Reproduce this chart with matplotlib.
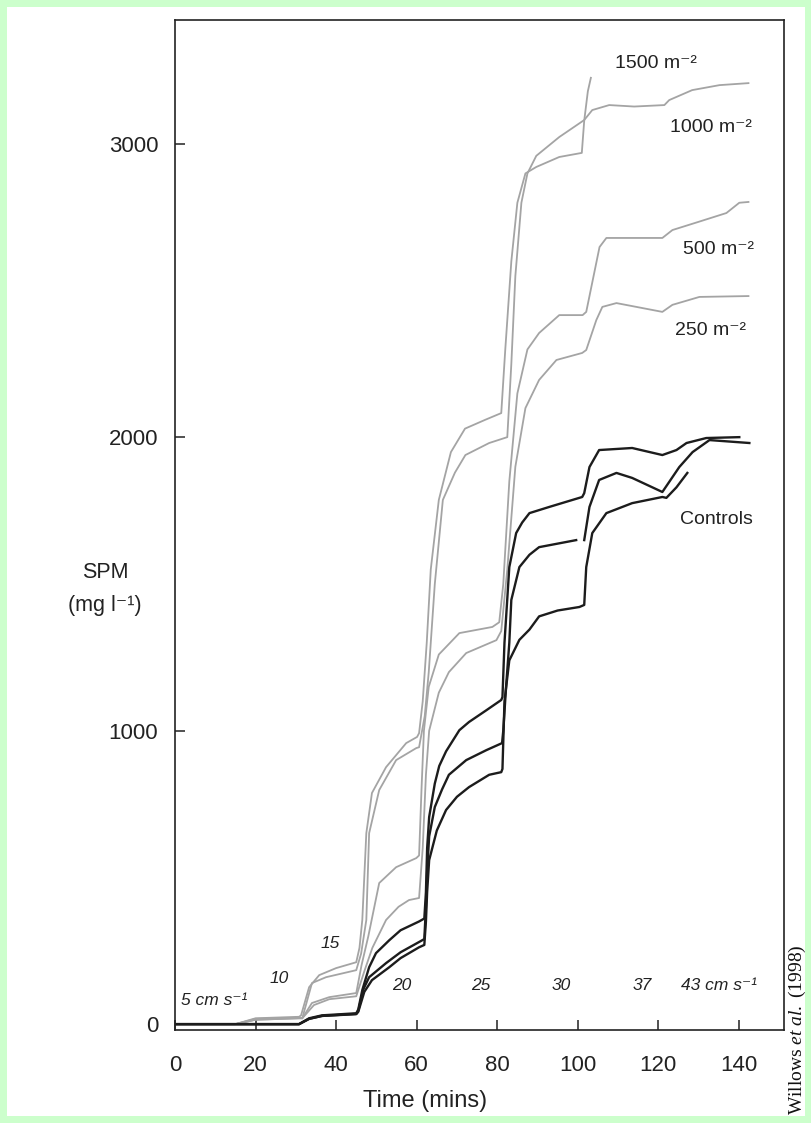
import numpy as np
import matplotlib
matplotlib.use("Agg")
import matplotlib.pyplot as plt
from matplotlib.patches import Rectangle

plt.rcParams['font.family'] = ['Liberation Sans', 'DejaVu Sans']
plt.rcParams['mathtext.fontset'] = 'custom'
plt.rcParams['mathtext.rm'] = 'Liberation Serif'
plt.rcParams['mathtext.it'] = 'Liberation Serif:italic'

# --- data (time in mins, SPM in mg/l) ---
g1500_x = [0, 15, 20, 30.8, 31.3, 33.3, 35.8, 40.0, 45.0, 45.8, 46.5, 47.5, 48.9, 52.4, 57.4,
           60.1, 60.6, 61.5, 62.5, 63.5, 65.5, 68.5, 72, 77, 81, 82, 83.5, 85, 87, 89.7, 95.4,
           101.0, 101.6, 102.5, 103.3]
g1500_y = [0, 0, 20, 25, 30, 126, 167, 191, 211, 260, 355, 651, 788, 876, 958,
           979, 992, 1100, 1300, 1550, 1787, 1950, 2030, 2060, 2083, 2300, 2600, 2800, 2900, 2922, 2956,
           2970, 3080, 3180, 3229]

g1000_x = [0, 15, 20, 30.8, 31.6, 34.0, 37.5, 45.0, 46.2, 47.5, 48.2, 50.7, 54.9, 59.9, 60.6,
           62.0, 63.0, 64.5, 66.5, 69.5, 72.1, 78.0, 82.5, 83.5, 84.5, 86.0, 87.5, 89.7, 95.4,
           101.6, 103.6, 107.8, 114, 121.5, 122.7, 128.4, 135.2, 142.6]
g1000_y = [0, 0, 18, 22, 20, 140, 160, 184, 240, 355, 651, 798, 900, 941, 944,
           1050, 1200, 1500, 1787, 1880, 1940, 1981, 2001, 2250, 2550, 2800, 2900, 2960, 3024,
           3082, 3116, 3133, 3128, 3133, 3150, 3184, 3201, 3208]

g500_x = [0, 15, 20, 30.8, 31.6, 34.0, 38.3, 45.0, 46.3, 48.0, 50.7, 54.9, 59.9, 60.6, 61.2,
          61.8, 63, 65.5, 70.6, 78.8, 80.5, 81.5, 83.0, 85.0, 87.5, 90.4, 95.4, 101.2, 102.1,
          105.4, 107.1, 121, 123.5, 130, 136.9, 140.1, 142.6]
g500_y = [0, 0, 15, 20, 20, 72, 92, 106, 200, 300, 481, 535, 566, 575, 800,
          1000, 1150, 1260, 1333, 1354, 1370, 1500, 1850, 2150, 2300, 2356, 2417, 2417, 2428,
          2649, 2680, 2680, 2707, 2735, 2765, 2800, 2803]

g250_x = [0, 15, 20, 30.8, 31.6, 34.5, 38.3, 45.0, 47.0, 49.0, 52.4, 55.5, 58.1, 60.6, 61.5,
          62.3, 63.1, 65.5, 68, 72.3, 79.8, 81, 82.5, 84.5, 87, 90.4, 94.7, 101.1, 102.1,
          104.6, 106.1, 109.6, 121, 123.5, 130.2, 142.6]
g250_y = [0, 0, 15, 20, 20, 65, 85, 95, 180, 260, 355, 400, 423, 430, 600,
          850, 1000, 1130, 1200, 1265, 1309, 1340, 1550, 1900, 2100, 2196, 2264, 2288, 2298,
          2400, 2445, 2458, 2428, 2452, 2479, 2482]

ctrl1_x = [0, 30.8, 33.3, 36.5, 45.0, 45.5, 46.5, 48.2, 49.9, 53.2, 56, 60.6, 61.9, 62.3, 62.6,
           63.1, 64.5, 65.6, 67.3, 70.6, 73.0, 77.3, 81.0, 81.3, 81.8, 82.5, 83.0, 84.7, 86.2,
           88.0, 92.9, 101.1, 101.6, 102.9, 105.3, 113.5, 121.0, 124.5, 127.0, 131.9, 140.1]
ctrl1_y = [0, 0, 20, 30, 37, 50, 116, 194, 242, 286, 320, 350, 360, 450, 600,
           706, 820, 880, 930, 1002, 1030, 1070, 1105, 1115, 1300, 1450, 1558, 1674, 1710,
           1742, 1763, 1797, 1810, 1899, 1957, 1964, 1940, 1957, 1981, 1998, 2001]

ctrl2_x = [0, 30.8, 33.3, 36.5, 45.0, 45.5, 46.8, 48.2, 52.4, 56, 60.6, 61.9, 62.3, 62.6, 63.1,
           64.5, 66.3, 68, 72.3, 77.3, 81.2, 81.5, 82.2, 83.0, 83.5, 85.5, 88.0, 90.4, 99.6,
           np.nan, 101.6, 102.9, 105.3, 109.6, 113.5, 121.0, 125.2, 128.5, 132.7, 142.6]
ctrl2_y = [0, 0, 18, 28, 35, 45, 120, 160, 208, 245, 280, 290, 400, 520, 640,
           740, 800, 850, 900, 934, 958, 1000, 1150, 1300, 1446, 1558, 1600, 1626, 1650,
           np.nan, 1650, 1763, 1855, 1879, 1862, 1814, 1899, 1950, 1991, 1981]

ctrl3_x = [0, 30.8, 33.3, 36.5, 45.0, 45.5, 47, 48.9, 53.2, 56, 60.6, 61.9, 62.3, 62.6, 63.1,
           65, 67.3, 70, 73.0, 78.0, 81.0, 81.3, 81.8, 83.0, 85.5, 88, 90.4, 95, 100.4, 101.6,
           102.1, 103.6, 107.1, 113.5, 121.0, 122.0, 124.5, 127.2]
ctrl3_y = [0, 0, 18, 28, 34, 42, 110, 150, 194, 225, 262, 270, 350, 450, 559,
           660, 730, 775, 808, 850, 859, 870, 1100, 1240, 1310, 1345, 1390, 1410, 1422, 1429,
           1558, 1674, 1742, 1776, 1797, 1794, 1830, 1879]

# curve labels
dens_labels = ['1500 m⁻²', '1000 m⁻²', '500 m⁻²', '250 m⁻²', 'Controls']
dens_lx = [119.5, 133.0, 135.0, 133.0, 134.5]
dens_ly = [3275, 3055, 2640, 2365, 1720]

# current velocity labels
vel_labels = ['5 cm s⁻¹', '10', '15', '20', '25', '30', '37', '43 cm s⁻¹']
vel_lx = [9.8, 25.8, 38.5, 56.3, 75.8, 96.0, 116.0, 135.0]
vel_ly = [80, 155, 275, 130, 130, 130, 130, 130]

x_ticks = [0, 20, 40, 60, 80, 100, 120, 140]
y_ticks = [0, 1000, 2000, 3000]

# --- figure ---
W, H = 812, 1123
fig = plt.figure(figsize=(W / 100, H / 100), dpi=100)
fig.patch.set_facecolor('#ccffcc')
b = 7
fig.patches.append(Rectangle((b / W, b / H), 1 - 2 * b / W, 1 - 2 * b / H,
                             transform=fig.transFigure, facecolor='white',
                             edgecolor='none', zorder=-10))

ax = fig.add_axes([175 / W, (H - 1030) / H, (784 - 175) / W, (1030 - 20) / H])
ax.set_facecolor('white')

gray = '#a4a4a4'
for xs, ys in [(g1500_x, g1500_y), (g1000_x, g1000_y), (g500_x, g500_y), (g250_x, g250_y)]:
    ax.plot(xs, ys, color=gray, lw=1.3, solid_capstyle='butt')
for xs, ys in [(ctrl1_x, ctrl1_y), (ctrl2_x, ctrl2_y), (ctrl3_x, ctrl3_y)]:
    ax.plot(xs, ys, color='#1c1c1c', lw=1.7)

ax.set_xlim(0, 151.2)
ax.set_ylim(-20, 3423)
ax.set_xticks(x_ticks)
ax.set_yticks(y_ticks)
ax.tick_params(direction='in', length=7, width=1.1, labelsize=16, colors='#222222')
ax.tick_params(axis='x', pad=18)
ax.tick_params(axis='y', pad=12)
for s in ax.spines.values():
    s.set_linewidth(1.2)
    s.set_color('#222222')

for lab, x, y in zip(dens_labels, dens_lx, dens_ly):
    ax.text(x, y, lab, fontsize=14, ha='center', va='center', color='#222222')
for lab, x, y in zip(vel_labels, vel_lx, vel_ly):
    ax.text(x, y, lab, fontsize=12.5, style='italic', ha='center', va='center', color='#222222')

fig.text(105 / W, 1 - 572 / H, 'SPM', fontsize=15.5, ha='center', va='center', color='#222222')
fig.text(105 / W, 1 - 606 / H, '(mg l⁻¹)', fontsize=15.5, ha='center', va='center', color='#222222')
fig.text(425 / W, 1 - 1101 / H, 'Time (mins)', fontsize=17, ha='center', va='center', color='#222222')
fig.text(797 / W, 1 - 1030 / H, r'Willows $\mathit{et\ al.}$ (1998)', fontsize=14,
         family='Liberation Serif', rotation=90, ha='center', va='center', color='#111111')

fig.savefig('out.png', dpi=100, facecolor=fig.get_facecolor())
